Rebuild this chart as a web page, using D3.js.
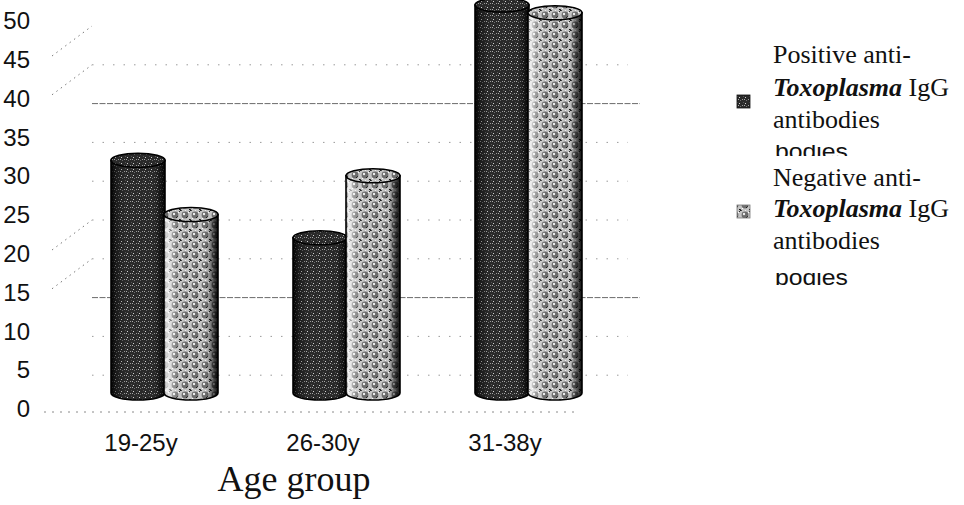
<!DOCTYPE html>
<html>
<head>
<meta charset="utf-8">
<script src="https://cdn.jsdelivr.net/npm/d3@7"></script>
<style>
  html, body { margin: 0; padding: 0; background: #fff; }
  svg { display: block; }
</style>
</head>
<body>
<svg id="chart" width="964" height="505"></svg>
<script>
// Age groups and the two antibody series (per cent of each series)
const categories = ["19-25y", "26-30y", "31-38y"];
const positive = [30, 20, 50];
const negative = [23, 28, 49];
const yTicks = [0, 5, 10, 15, 20, 25, 30, 35, 40, 45, 50];
const seriesNames = [
  ["Positive anti-", "Toxoplasma", " IgG", "antibodies"],
  ["Negative anti-", "Toxoplasma", " IgG", "antibodies"]
];

const svg = d3.select("#chart");

// front plane scales
const x = d3.scaleBand().domain(categories).range([50, 596]);
const y = d3.scaleLinear().domain([0, 50]).range([409, 21]);

// 3D depth: bars stand behind the front edge, back wall slightly lower
const depthDX = 24, depthDY = -16;
const wallDY = 5;
const barW = 54, capRy = 7;

const defs = svg.append("defs");

// dark speckled fill
const pPos = defs.append("pattern").attr("id", "patPos")
  .attr("patternUnits", "userSpaceOnUse").attr("width", 6).attr("height", 6);
pPos.append("rect").attr("width", 6).attr("height", 6).attr("fill", "#2a2a2a");
[[1, 1, "#d0d0d0"], [4, 3, "#9a9a9a"], [2, 4, "#6e6e6e"], [5, 0, "#555"], [0, 3, "#aaa"]].forEach(([px, py, c]) =>
  pPos.append("rect").attr("x", px).attr("y", py).attr("width", 1).attr("height", 1).attr("fill", c));

// grey checkered fill
const pNeg = defs.append("pattern").attr("id", "patNeg")
  .attr("patternUnits", "userSpaceOnUse").attr("width", 10).attr("height", 10);
pNeg.append("rect").attr("width", 10).attr("height", 10).attr("fill", "#c4c4c4");
pNeg.append("circle").attr("cx", 5).attr("cy", 5).attr("r", 3.4).attr("fill", "#6c6c6c");
pNeg.append("circle").attr("cx", 4).attr("cy", 4).attr("r", 1.2).attr("fill", "#efefef");
[[0, 0, "#1a1a1a"], [1, 0, "#444"], [0, 9, "#333"], [9, 1, "#2a2a2a"], [6, 7, "#1e1e1e"], [7, 6, "#333"], [2, 8, "#fff"], [8, 2, "#fff"], [9, 9, "#111"], [5, 0, "#eee"]].forEach(([px, py, c]) =>
  pNeg.append("rect").attr("x", px).attr("y", py).attr("width", 1).attr("height", 1).attr("fill", c));

// cylinder shading
const gPos = defs.append("linearGradient").attr("id", "shadePos");
[[0, "#000", 0.95], [0.1, "#000", 0.35], [0.25, "#000", 0], [0.8, "#000", 0], [0.93, "#000", 0.55], [1, "#000", 0.95]]
  .forEach(([o, c, a]) => gPos.append("stop").attr("offset", o).attr("stop-color", c).attr("stop-opacity", a));
const gNeg = defs.append("linearGradient").attr("id", "shadeNeg");
[[0, "#fff", 0.1], [0.05, "#fff", 0.75], [0.14, "#fff", 0.35], [0.3, "#fff", 0], [0.78, "#000", 0], [0.92, "#000", 0.6], [1, "#000", 0.95]]
  .forEach(([o, c, a]) => gNeg.append("stop").attr("offset", o).attr("stop-color", c).attr("stop-opacity", a));

// back-wall gridlines
const grid = svg.append("g").attr("class", "grid");
const gridX0 = 92, gridX1 = 640;
const gy = v => y(v) + wallDY;
const strong = new Set([40, 15]);
yTicks.filter(v => v > 0 && v < 50).forEach(v => {
  grid.append("line")
    .attr("x1", gridX0).attr("x2", strong.has(v) ? gridX1 : gridX1 - 12)
    .attr("y1", gy(v)).attr("y2", gy(v))
    .attr("stroke", strong.has(v) ? "#6a6a6a" : "#9a9a9a")
    .attr("stroke-width", 1)
    .attr("stroke-dasharray", strong.has(v) ? "6,1.5" : "1.5,9");
});
// floor front line
grid.append("line").attr("x1", 44).attr("x2", 580)
  .attr("y1", gy(0) - 2).attr("y2", gy(0) - 2)
  .attr("stroke", "#8a8a8a").attr("stroke-dasharray", "2,6");
// side-wall edges
[50, 45, 25, 20].forEach(v => {
  grid.append("line")
    .attr("x1", 52).attr("y1", gy(v) + 30).attr("x2", gridX0).attr("y2", gy(v))
    .attr("stroke", "#7a7a7a").attr("stroke-dasharray", "1.5,4");
});

// y axis labels
const yAxis = d3.axisLeft(y).tickValues(yTicks).tickSize(0).tickPadding(0);
const ya = svg.append("g").attr("transform", "translate(30,0)").call(yAxis);
ya.select(".domain").remove();
ya.selectAll("text")
  .attr("font-family", "'Liberation Sans', Arial, sans-serif")
  .attr("font-size", 24).attr("fill", "#111");

// x axis labels
const xAxis = d3.axisBottom(x).tickSize(0).tickPadding(0);
const xa = svg.append("g").attr("transform", "translate(0,434)").call(xAxis);
xa.select(".domain").remove();
xa.selectAll("text")
  .attr("font-family", "'Liberation Sans', Arial, sans-serif")
  .attr("font-size", 24).attr("fill", "#111");

// axis title
svg.append("text")
  .attr("x", 294).attr("y", 491)
  .attr("text-anchor", "middle")
  .attr("font-family", "'Liberation Serif', 'Times New Roman', serif")
  .attr("font-size", 36).attr("fill", "#111")
  .text("Age group");

// cylinders
function cylinder(g, x0, yTop, yBase, fill, shade) {
  const rx = barW / 2, x1 = x0 + barW;
  const body = `M${x0},${yTop} L${x0},${yBase} A${rx},${capRy} 0 0 0 ${x1},${yBase} L${x1},${yTop} Z`;
  g.append("path").attr("d", body).attr("fill", fill);
  g.append("path").attr("d", body).attr("fill", shade)
    .attr("stroke", "#000").attr("stroke-width", 1.6);
  g.append("ellipse").attr("cx", x0 + rx).attr("cy", yTop).attr("rx", rx).attr("ry", capRy)
    .attr("fill", fill).attr("stroke", "#000").attr("stroke-width", 1.6);
}

const bars = svg.append("g").attr("class", "bars");
categories.forEach((c, i) => {
  const cx = x(c) + x.bandwidth() / 2 + depthDX;
  const base = y(0) + depthDY;
  cylinder(bars, cx - barW, y(positive[i]) + depthDY, base, "url(#patPos)", "url(#shadePos)");
  cylinder(bars, cx - 1, y(negative[i]) + depthDY, base, "url(#patNeg)", "url(#shadeNeg)");
});

// legend
const legend = svg.append("g").attr("class", "legend");
const serif = "'Liberation Serif', 'Times New Roman', serif";
const legendRows = [
  { fill: "url(#patPos)", box: 95, lines: [63, 96, 128] },
  { fill: "url(#patNeg)", box: 205, lines: [186, 217, 249] }
];
legendRows.forEach((r, i) => {
  const nm = seriesNames[i];
  legend.append("rect").attr("x", 737).attr("y", r.box).attr("width", 13).attr("height", 13)
    .attr("fill", r.fill).attr("stroke", i === 0 ? "#111" : "#777").attr("stroke-width", 0.8);
  legend.append("text").attr("x", 773).attr("y", r.lines[0])
    .attr("font-family", serif).attr("font-size", 26).attr("fill", "#111").text(nm[0]);
  const t = legend.append("text").attr("x", 773).attr("y", r.lines[1])
    .attr("font-family", serif).attr("font-size", 26).attr("fill", "#111");
  t.append("tspan").attr("font-style", "italic").attr("font-weight", "bold").text(nm[1]);
  t.append("tspan").text(nm[2]);
  legend.append("text").attr("x", 773).attr("y", r.lines[2])
    .attr("font-family", serif).attr("font-size", 26).attr("fill", "#111").text(nm[3]);
});

// clipped fragments of an overlapping label layer
defs.append("clipPath").attr("id", "clipA")
  .append("rect").attr("x", 760).attr("y", 145).attr("width", 120).attr("height", 11);
defs.append("clipPath").attr("id", "clipB")
  .append("rect").attr("x", 760).attr("y", 273).attr("width", 120).attr("height", 15);
legend.append("text").attr("x", 775).attr("y", 159).attr("clip-path", "url(#clipA)")
  .attr("font-family", "'Liberation Sans', Arial, sans-serif").attr("font-size", 22).attr("fill", "#111")
  .attr("textLength", 73).attr("lengthAdjust", "spacingAndGlyphs")
  .text("bodies");
legend.append("text").attr("x", 775).attr("y", 285).attr("clip-path", "url(#clipB)")
  .attr("font-family", "'Liberation Sans', Arial, sans-serif").attr("font-size", 22).attr("fill", "#111")
  .attr("textLength", 73).attr("lengthAdjust", "spacingAndGlyphs")
  .text("bodies");
</script>
</body>
</html>
